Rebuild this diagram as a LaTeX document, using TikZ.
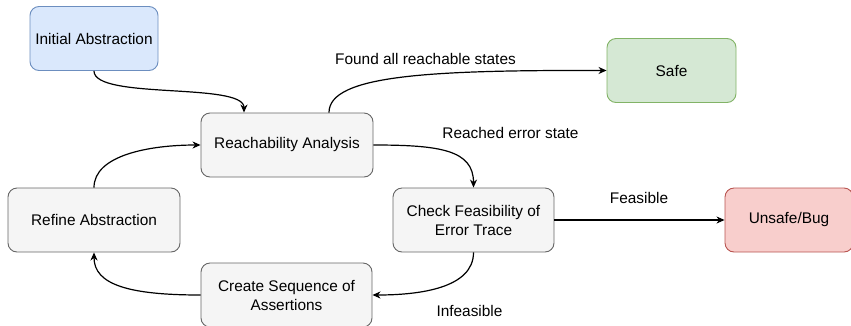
\documentclass[tikz,border=0pt]{standalone}
\usepackage{fontspec}
\setmainfont{Liberation Sans}
\usetikzlibrary{arrows.meta,calc}
\definecolor{bluefill}{HTML}{DAE8FC}
\definecolor{bluedraw}{HTML}{6C8EBF}
\definecolor{greenfill}{HTML}{D5E8D4}
\definecolor{greendraw}{HTML}{82B366}
\definecolor{redfill}{HTML}{F8CECC}
\definecolor{reddraw}{HTML}{B85450}
\definecolor{greyfill}{HTML}{F5F5F5}
\definecolor{greydraw}{HTML}{666666}
\tikzset{
	box/.style={draw, rounded corners=9pt, line width=0.9pt, align=center,
		font=\fontsize{15.4}{19}\selectfont, minimum height=64pt, inner sep=2pt},
	greybox/.style={box, fill=greyfill, draw=greydraw, minimum width=172pt},
	bluebox/.style={box, fill=bluefill, draw=bluedraw, minimum width=128pt},
	greenbox/.style={box, fill=greenfill, draw=greendraw, minimum width=129pt},
	redbox/.style={box, fill=redfill, draw=reddraw, minimum width=128pt},
	flow/.style={line width=1.2pt, -{Stealth[length=8pt,width=7pt,inset=2.5pt]}},
	edgetext/.style={font=\fontsize{15.4}{19}\selectfont}
}

\begin{document}
\begin{tikzpicture}[x=1pt, y=-1pt]
		%%%%% START %%%%%
		\useasboundingbox (0,0) rectangle (851,325);
		
		\node[bluebox] (init) at (94, 38.5) {Initial Abstraction};
		\node[greybox] (reach) at (287, 145) {Reachability Analysis};
		\node[greenbox] (safe) at (671.5, 70.5) {Safe};
		\node[greybox, minimum width=161pt] (check) at (473.5, 220) {Check Feasibility of\\Error Trace};
		\node[redbox] (bug) at (789, 220) {Unsafe/Bug};
		\node[greybox] (refine) at (94, 220) {Refine Abstraction};
		\node[greybox, minimum width=171pt] (assert) at (286.5, 295) {Create Sequence of\\Assertions};
		
		\coordinate (reachin) at ($(reach.north)+(-43,0)$);
		\coordinate (reachout) at ($(reach.north)+(42,0)$);
		
		\draw[flow] (init.south) .. controls (94, 100) and (244, 82) .. (reachin);
		\draw[flow] (reachout) .. controls (329, 75) and (430, 70) .. (safe.west);
		\draw[flow] (reach.east) .. controls (440, 145) and (473.5, 150) .. (check.north);
		\draw[flow] (check.east) -- (bug.west);
		\draw[flow] (check.south) .. controls (473.5, 288) and (420, 295) .. (assert.east);
		\draw[flow] (assert.west) .. controls (130, 295) and (94, 285) .. (refine.south);
		\draw[flow] (refine.north) .. controls (94, 155) and (150, 145) .. (reach.west);
		
		\node[edgetext] (lfound) at (425.5, 59) {Found all reachable states};
		\node[edgetext] (lreached) at (510.5, 133) {Reached error state};
		\node[edgetext] (lfeas) at (639, 198) {Feasible};
		\node[edgetext] (linfeas) at (469.5, 311) {Infeasible};
		
		%%%%% END %%%%%
	\end{tikzpicture}
\end{document}
